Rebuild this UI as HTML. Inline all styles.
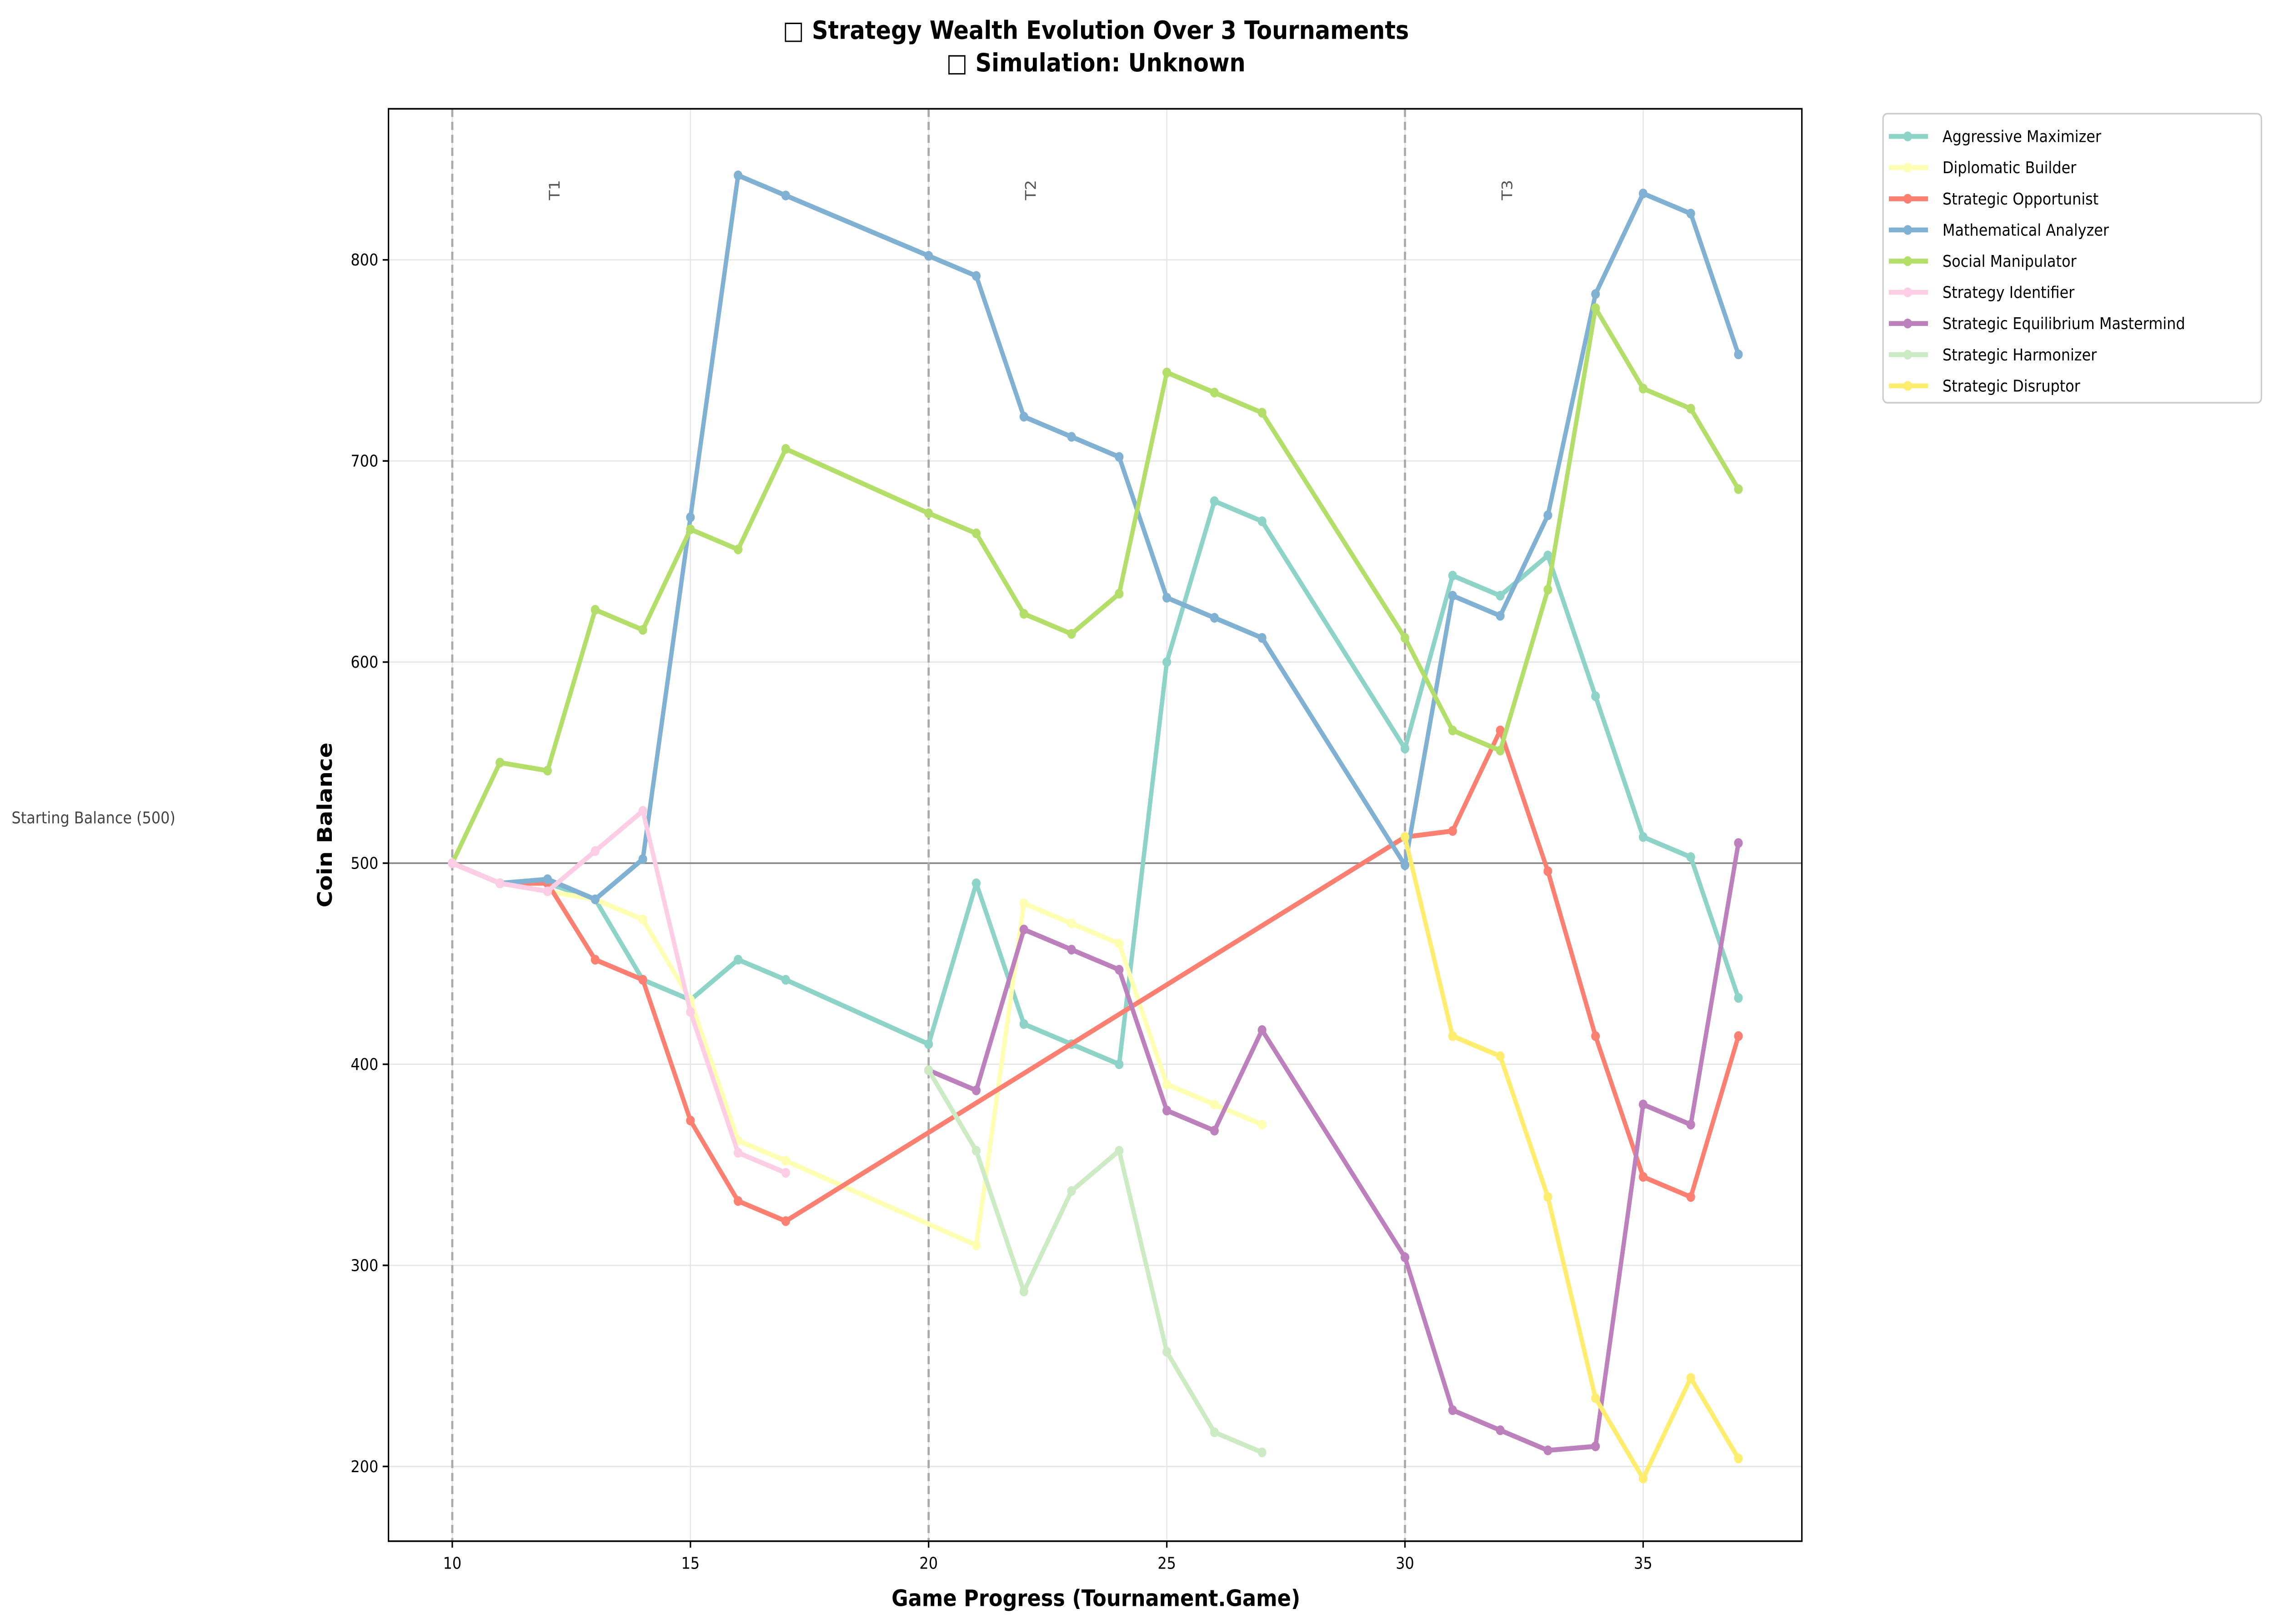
<!DOCTYPE html>
<html><head><meta charset="utf-8"><style>html,body{margin:0;padding:0;background:#fff;overflow:hidden;width:100%;height:100%}svg{display:block;width:100vw;height:100vh}</style></head>
<body>
<svg id="chart" viewBox="0 0 1568 1000" preserveAspectRatio="none" xmlns="http://www.w3.org/2000/svg" font-family="'DejaVu Sans','Liberation Sans',sans-serif">
<rect width="1568" height="1000" fill="#fff"/>
<text x="756" y="24" text-anchor="middle" font-size="15.5" font-weight="bold">□ Strategy Wealth Evolution Over 3 Tournaments</text>
<text x="756" y="44" text-anchor="middle" font-size="15.5" font-weight="bold">□ Simulation: Unknown</text>
<g id="grid"></g><g id="axes"></g><g id="series"></g>
<rect x="268" y="67" width="975" height="882" fill="none" stroke="#000" stroke-width="1"/>
<text x="756" y="989" text-anchor="middle" font-size="14" font-weight="bold">Game Progress (Tournament.Game)</text>
<text transform="translate(229,508) rotate(-90)" text-anchor="middle" font-size="14" font-weight="bold">Coin Balance</text>
<text x="8" y="507" font-size="10" fill="#444">Starting Balance (500)</text>
<g id="legend"></g>
</svg>
<script>
const xTicks=[10,15,20,25,30,35];
const yTicks=[200,300,400,500,600,700,800];
const tournamentStarts=[10,20,30];
const tournamentLabels=["T1","T2","T3"];
const names=["Aggressive Maximizer","Diplomatic Builder","Strategic Opportunist","Mathematical Analyzer","Social Manipulator","Strategy Identifier","Strategic Equilibrium Mastermind","Strategic Harmonizer","Strategic Disruptor"];
const colors=["#8dd3c7","#ffffb3","#fb8072","#80b1d3","#b3de69","#fccde5","#bc80bd","#ccebc5","#ffed6f"];
const sAM_x=[10,11,12,13,14,15,16,17,20,21,22,23,24,25,26,27,30,31,32,33,34,35,36,37];
const sAM_y=[500,490,490,482,442,432,452,442,410,490,420,410,400,600,680,670,557,643,633,653,583,513,503,433];
const sDB_x=[10,11,12,13,14,15,16,17,21,22,23,24,25,26,27];
const sDB_y=[500,490,486,482,472,432,362,352,310,480,470,460,390,380,370];
const sSO_x=[10,11,12,13,14,15,16,17,30,31,32,33,34,35,36,37];
const sSO_y=[500,490,490,452,442,372,332,322,513,516,566,496,414,344,334,414];
const sMA_x=[10,11,12,13,14,15,16,17,20,21,22,23,24,25,26,27,30,31,32,33,34,35,36,37];
const sMA_y=[500,490,492,482,502,672,842,832,802,792,722,712,702,632,622,612,499,633,623,673,783,833,823,753];
const sSM_x=[10,11,12,13,14,15,16,17,20,21,22,23,24,25,26,27,30,31,32,33,34,35,36,37];
const sSM_y=[500,550,546,626,616,666,656,706,674,664,624,614,634,744,734,724,612,566,556,636,776,736,726,686];
const sSI_x=[10,11,12,13,14,15,16,17];
const sSI_y=[500,490,486,506,526,426,356,346];
const sSEM_x=[20,21,22,23,24,25,26,27,30,31,32,33,34,35,36,37];
const sSEM_y=[397,387,467,457,447,377,367,417,304,228,218,208,210,380,370,510];
const sSH_x=[20,21,22,23,24,25,26,27];
const sSH_y=[397,357,287,337,357,257,217,207];
const sSD_x=[30,31,32,33,34,35,36,37];
const sSD_y=[513,414,404,334,234,194,244,204];
const seriesX=[sAM_x,sDB_x,sSO_x,sMA_x,sSM_x,sSI_x,sSEM_x,sSH_x,sSD_x];
const seriesY=[sAM_y,sDB_y,sSO_y,sMA_y,sSM_y,sSI_y,sSEM_y,sSH_y,sSD_y];
const NS="http://www.w3.org/2000/svg";
const X=v=>312+(v-10)*32.86;
const Y=v=>531.5-(v-500)*1.2383;
function mk(t,a,p){const e=document.createElementNS(NS,t);for(const k in a)e.setAttribute(k,a[k]);p.appendChild(e);return e;}
const grid=document.getElementById('grid'),axes=document.getElementById('axes'),ser=document.getElementById('series'),leg=document.getElementById('legend');
xTicks.forEach(t=>{
 const g=mk('line',{x1:X(t),x2:X(t),y1:67,y2:949,stroke:'#e6e6e6','stroke-width':0.8},grid);
 
 
 mk('line',{x1:X(t),x2:X(t),y1:949,y2:953,stroke:'#000'},axes);
 const tx=mk('text',{x:X(t),y:966,'text-anchor':'middle','font-size':10},axes);tx.textContent=t;
 
 
});
yTicks.forEach(t=>{
 const g=mk('line',{x1:268,x2:1243,y1:Y(t),y2:Y(t),stroke:'#e6e6e6','stroke-width':0.8},grid);
 
 
 mk('line',{x1:264,x2:268,y1:Y(t),y2:Y(t),stroke:'#000'},axes);
 const tx=mk('text',{x:261,y:Y(t)+3.5,'text-anchor':'end','font-size':10},axes);tx.textContent=t;
 
 
});
const bl=mk('line',{x1:268,x2:1243,y1:Y(500),y2:Y(500),stroke:'#888','stroke-width':1},axes);


tournamentStarts.forEach((t,i)=>{
 const l=mk('line',{x1:X(t),x2:X(t),y1:67,y2:949,stroke:'#aaa','stroke-width':1.5,'stroke-dasharray':'5,3'},axes);
 
 
 const tx=mk('text',{transform:`translate(${X(t)+74},117) rotate(-90)`,'text-anchor':'middle','font-size':10,fill:'#555'},axes);tx.textContent=tournamentLabels[i];
 
 
});
seriesX.forEach((xs,i)=>{
 const g=mk('g',{},ser);
 
 
 const pts=xs.map((x,j)=>X(x)+','+Y(seriesY[i][j])).join(' ');
 const pl=mk('polyline',{points:pts,fill:'none',stroke:colors[i],'stroke-width':3,'stroke-linejoin':'round'},g);
 
 
 xs.forEach((x,j)=>{const c=mk('circle',{cx:X(x),cy:Y(seriesY[i][j]),r:3,fill:colors[i]},g);
  
  });
});
const lb=mk('rect',{x:1299,y:70,width:261,height:178,rx:3,fill:'#fff',stroke:'#ccc'},leg);


names.forEach((n,i)=>{
 const y=84+i*19.2;
 const g=mk('g',{},leg);
 
 
 mk('line',{x1:1303,x2:1330,y1:y,y2:y,stroke:colors[i],'stroke-width':3},g);
 mk('circle',{cx:1316,cy:y,r:3,fill:colors[i]},g);
 const t=mk('text',{x:1340,y:y+3.5,'font-size':10},g);t.textContent=n;
});
</script>
</body></html>
